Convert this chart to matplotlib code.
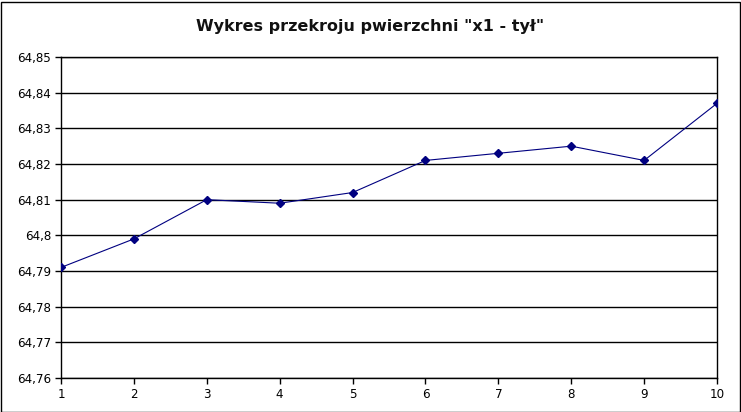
import matplotlib
matplotlib.use("Agg")
import matplotlib.pyplot as plt
from matplotlib.ticker import FuncFormatter

# data
points = [1, 2, 3, 4, 5, 6, 7, 8, 9, 10]
values = [64.791, 64.799, 64.810, 64.809, 64.812, 64.821, 64.823, 64.825, 64.821, 64.837]
y_ticks = [64.76, 64.77, 64.78, 64.79, 64.80, 64.81, 64.82, 64.83, 64.84, 64.85]
title = 'Wykres przekroju pwierzchni "x1 - tył"'


def comma_fmt(v, pos):
    s = ('%.2f' % v).rstrip('0').rstrip('.')
    return s.replace('.', ',')


fig = plt.figure(figsize=(7.41, 4.12), dpi=100)
fig.patch.set_facecolor('white')
ax = fig.add_axes([61 / 741, 34 / 412, 656 / 741, 321 / 412])

ax.plot(points, values, color='#000080', linewidth=0.8, marker='D',
        markersize=4, markerfacecolor='#000080', markeredgecolor='#000080', zorder=3)

ax.set_xlim(1, 10)
ax.set_ylim(64.76, 64.85)
ax.set_xticks(points)
ax.set_yticks(y_ticks)
ax.yaxis.set_major_formatter(FuncFormatter(comma_fmt))
ax.yaxis.grid(True, color='black', linewidth=1)
ax.set_axisbelow(True)
ax.tick_params(axis='both', direction='out', length=4, width=1, labelsize=8.6,
               color='black', pad=3)

for side in ['left', 'right', 'top', 'bottom']:
    ax.spines[side].set_color('black')
    ax.spines[side].set_linewidth(1)

fig.text(0.5, 1 - 27 / 412, title, ha='center', va='center', fontsize=11.5,
         fontweight='bold', color='#111111')

# outer frame around the whole chart
fig.add_artist(plt.Rectangle((0.5 / 741, 0.5 / 412), 739.5 / 741, 410 / 412,
                             transform=fig.transFigure, fill=False,
                             edgecolor='black', linewidth=1))

fig.savefig('out.png', dpi=100)
